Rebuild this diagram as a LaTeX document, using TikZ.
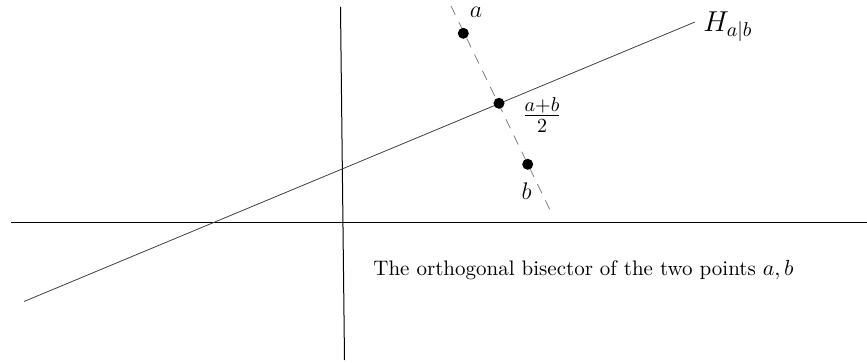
\documentclass[tikz,border=0pt]{standalone}
\begin{document}
\begin{tikzpicture}[x=0.5pt,y=-0.5pt,
  axis/.style={line width=0.5pt},
  bis/.style={line width=0.4pt, black!75},
  seg/.style={line width=0.4pt, gray, dash pattern=on 5pt off 4pt},
  pt/.style={circle, fill=black, inner sep=0pt, minimum size=5.5pt},
  lbl/.style={font=\large, inner sep=0pt},
  biglbl/.style={font=\Large}]
\useasboundingbox (0,0) rectangle (867,363);
% axes
\coordinate (xl) at (11,222.5);
\coordinate (xr) at (867,222.5);
\coordinate (yt) at (340.5,7);
\coordinate (yb) at (344.5,360);
\draw[axis] (xl) -- (xr);
\draw[axis] (yt) -- (yb);
% bisector
\coordinate (hl) at (24,301.5);
\coordinate (hr) at (695,22);
\draw[bis] (hl) -- (hr);
% segment line
\coordinate (st) at (451,6);
\coordinate (sb) at (550,210);
\draw[seg] (st) -- (sb);
% points
\node[pt] (a) at (463.3,33.3) {};
\node[pt] (m) at (499,103.3) {};
\node[pt] (b) at (527.7,164.3) {};
% labels
\node[lbl, anchor=center] (la) at (476,12) {$a$};
\node[lbl, anchor=center] (lb) at (526.5,191.5) {$b$};
\node[biglbl, anchor=center] (lm) at (542,115) {$\frac{a+b}{2}$};
\node[biglbl, anchor=base west, inner sep=0pt] (lh) at (703,31.5) {$H_{a|b}$};
\node[anchor=base west, inner sep=0pt, font=\fontsize{10.5}{13}\selectfont] (cap) at (373,276) {The orthogonal bisector of the two points $a,b$};
\end{tikzpicture}
\end{document}
